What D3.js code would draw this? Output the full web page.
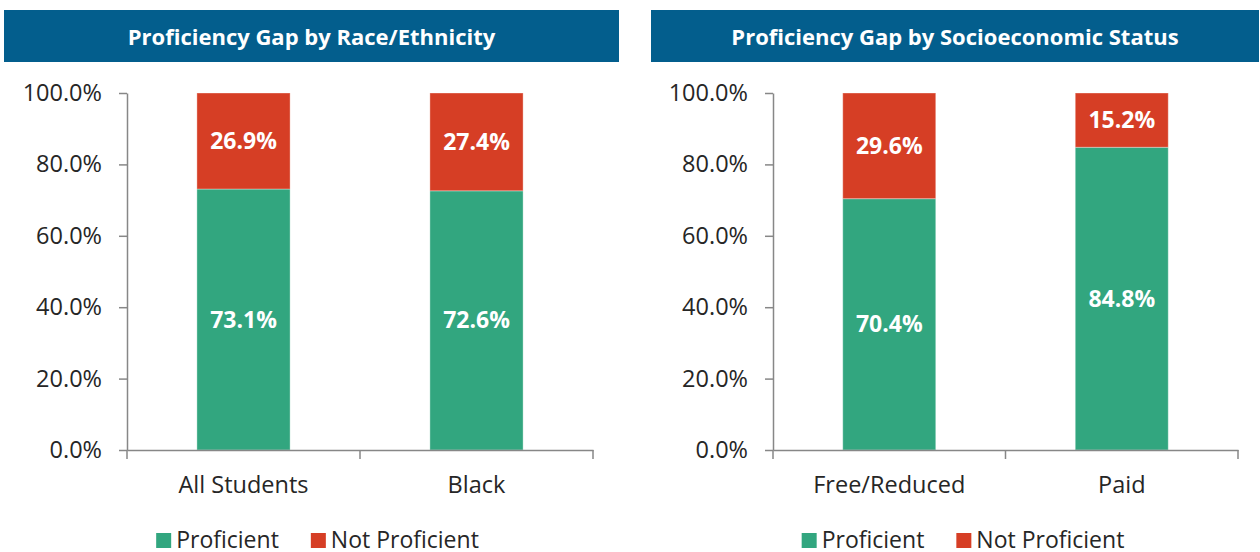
<!DOCTYPE html>
<html>
<head>
<meta charset="utf-8">
<script src="https://cdn.jsdelivr.net/npm/d3@7"></script>
<style>
  body { margin: 0; background: #fff; }
  svg { display: block; font-family: "Open Sans", sans-serif; }
  .tick text { fill: #262626; }
</style>
</head>
<body>
<svg id="chart" width="1260" height="552"></svg>
<script>
// ---- data
const raceTitle = 'Proficiency Gap by Race/Ethnicity'
const raceCategories = ['All Students', 'Black']
const raceProficient = [73.1, 72.6]
const raceNotProficient = [26.9, 27.4]

const sesTitle = 'Proficiency Gap by Socioeconomic Status'
const sesCategories = ['Free/Reduced', 'Paid']
const sesProficient = [70.4, 84.8]
const sesNotProficient = [29.6, 15.2]

const yTicks = [0, 20, 40, 60, 80, 100]
const seriesNames = ['Proficient', 'Not Proficient']
const seriesColors = ['#32a67f', '#d63e25']

const svg = d3.select('#chart')
const plotTop = 93, plotBottom = 450

const drawPanel = (opts) => {
    const { title, categories, proficient, notProficient, bannerX, bannerW, axisX, axisEnd, legShift } = opts
    const g = svg.append('g')

    // banner
    g.append('rect')
        .attr('x', bannerX).attr('y', 10)
        .attr('width', bannerW).attr('height', 52)
        .attr('fill', '#035e8d')
    g.append('text')
        .attr('x', bannerX + bannerW / 2).attr('y', 45)
        .attr('text-anchor', 'middle')
        .attr('fill', '#fff')
        .attr('font-weight', 700)
        .attr('font-size', 22)
        .text(title)

    const yScale = d3.scaleLinear().domain([0, 100]).range([plotBottom, plotTop])

    const xScale = d3.scaleBand()
        .domain(categories)
        .range([axisX, axisEnd])
        .paddingInner(0.6)
        .paddingOuter(0.3)

    // category slots for the boundary ticks
    const slot = d3.scaleBand().domain(categories).range([axisX, axisEnd])

    const rows = categories.map((c, i) => ({ cat: c, p: proficient[i], n: notProficient[i] }))

    // green segment
    g.selectAll('.bar-p')
        .data(rows)
        .enter()
        .append('rect')
        .attr('x', d => xScale(d.cat))
        .attr('width', xScale.bandwidth())
        .attr('y', d => yScale(d.p))
        .attr('height', d => plotBottom - yScale(d.p))
        .attr('fill', seriesColors[0])
        .attr('stroke', 'rgba(255,255,255,0.35)')
        .attr('stroke-width', 1)

    // red segment
    g.selectAll('.bar-n')
        .data(rows)
        .enter()
        .append('rect')
        .attr('x', d => xScale(d.cat))
        .attr('width', xScale.bandwidth())
        .attr('y', d => yScale(d.p + d.n))
        .attr('height', d => yScale(d.p) - yScale(d.p + d.n))
        .attr('fill', seriesColors[1])
        .attr('stroke', 'rgba(255,255,255,0.35)')
        .attr('stroke-width', 1)

    // value labels
    const lbl = (d, v, base) => {
        g.append('text')
            .attr('x', xScale(d.cat) + xScale.bandwidth() / 2)
            .attr('y', (yScale(base) + yScale(base + v)) / 2 + 8)
            .attr('text-anchor', 'middle')
            .attr('fill', '#fff')
            .attr('font-weight', 700)
            .attr('font-size', 23)
            .text(v.toFixed(1) + '%')
    }
    rows.forEach(d => { lbl(d, d.p, 0); lbl(d, d.n, d.p) })

    // y axis
    const yAxisG = g.append('g')
        .attr('transform', `translate(${axisX}, 0)`)
        .call(d3.axisLeft(yScale).tickValues(yTicks).tickSize(8).tickSizeOuter(0).tickPadding(17)
            .tickFormat(d => d.toFixed(1) + '%'))
    yAxisG.selectAll('.domain, .tick line').attr('stroke', '#878787').attr('stroke-width', 1.5)
    yAxisG.selectAll('.tick text').attr('font-size', 23.5).attr('font-family', '"Open Sans", sans-serif')

    // x axis
    const xAxisG = g.append('g')
        .attr('transform', `translate(0, ${plotBottom})`)
        .call(d3.axisBottom(slot).tickSize(0).tickPadding(26))
    xAxisG.select('.domain').attr('stroke', '#878787').attr('stroke-width', 1.5)
    xAxisG.selectAll('.tick text').attr('font-size', 23.5).attr('font-family', '"Open Sans", sans-serif')

    const bounds = [axisX].concat(categories.map(c => slot(c) + slot.bandwidth()))
    g.selectAll('.xtick')
        .data(bounds)
        .enter()
        .append('line')
        .attr('x1', d => d).attr('x2', d => d)
        .attr('y1', plotBottom).attr('y2', plotBottom + 9)
        .attr('stroke', '#878787')
        .attr('stroke-width', 1.5)

    // legend, centred on the banner
    const leg = g.append('g')
    let x = 0
    seriesNames.forEach((name, i) => {
        leg.append('rect')
            .attr('x', x).attr('y', 533)
            .attr('width', 15).attr('height', 15)
            .attr('fill', seriesColors[i])
        const t = leg.append('text')
            .attr('x', x + 20).attr('y', 548)
            .attr('font-size', 23)
            .attr('fill', '#262626')
            .text(name)
        x += 20 + t.node().getComputedTextLength() + 32
    })
    const w = leg.node().getBBox().width
    leg.attr('transform', `translate(${bannerX + bannerW / 2 + legShift - w / 2}, 0)`)
}

drawPanel({
    title: raceTitle, categories: raceCategories,
    proficient: raceProficient, notProficient: raceNotProficient,
    bannerX: 4, bannerW: 615, axisX: 127, axisEnd: 593, legShift: 6
})
drawPanel({
    title: sesTitle, categories: sesCategories,
    proficient: sesProficient, notProficient: sesNotProficient,
    bannerX: 651, bannerW: 608, axisX: 773, axisEnd: 1238, legShift: 8
})
</script>
</body>
</html>
